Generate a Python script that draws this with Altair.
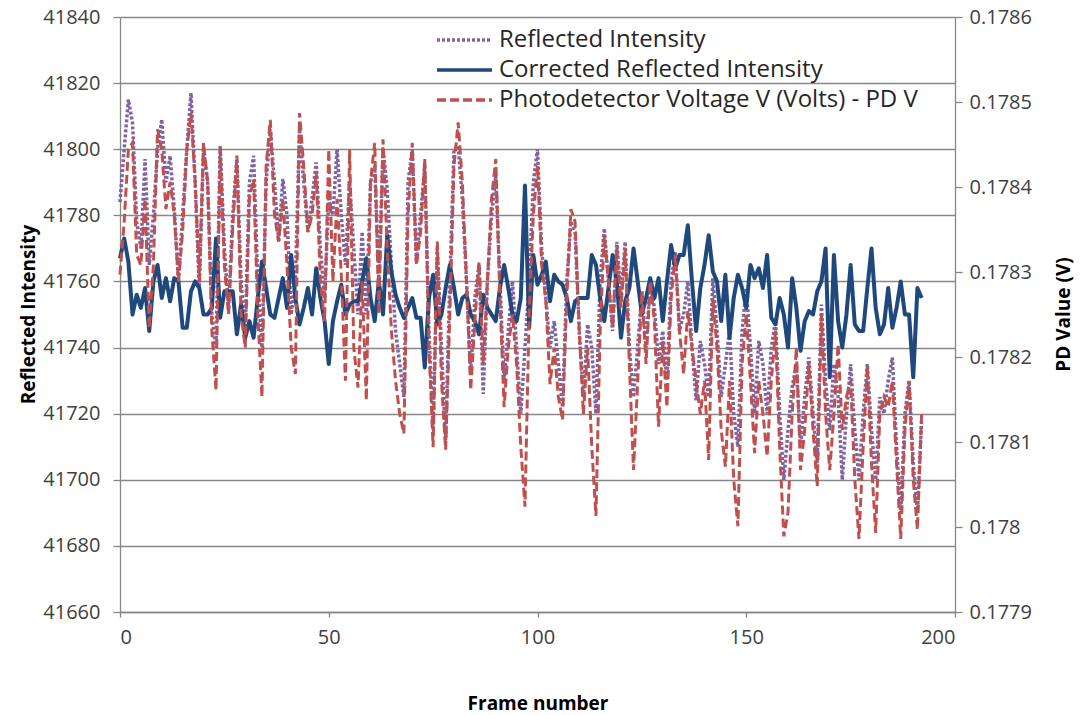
import altair as alt
import pandas as pd

frames = list(range(193))

reflected = [
    41784, 41800, 41815, 41808, 41778, 41770, 41797, 41765, 41780, 41800,
    41809, 41790, 41798, 41782, 41760, 41780, 41800, 41817, 41790, 41758,
    41800, 41790, 41750, 41740, 41801, 41770, 41752, 41780, 41797, 41760,
    41745, 41790, 41798, 41760, 41740, 41790, 41806, 41790, 41772, 41791,
    41780, 41750, 41760, 41806, 41790, 41775, 41785, 41796, 41770, 41755,
    41785, 41780, 41800, 41780, 41765, 41790, 41770, 41750, 41775, 41750,
    41790, 41795, 41760, 41800, 41788, 41765, 41745, 41735, 41725, 41790,
    41800, 41766, 41780, 41795, 41745, 41715, 41770, 41740, 41712, 41760,
    41800, 41801, 41785, 41760, 41732, 41755, 41765, 41726, 41760, 41780,
    41792, 41760, 41730, 41745, 41760, 41740, 41720, 41740, 41760, 41790,
    41800, 41770, 41755, 41740, 41748, 41735, 41722, 41760, 41778, 41775,
    41745, 41725, 41747, 41740, 41720, 41760, 41776, 41760, 41745, 41772,
    41755, 41772, 41740, 41725, 41740, 41757, 41740, 41760, 41752, 41735,
    41745, 41730, 41760, 41769, 41745, 41750, 41760, 41740, 41724, 41742,
    41735, 41725, 41761, 41745, 41725, 41735, 41745, 41720, 41710, 41745,
    41758, 41740, 41720, 41742, 41735, 41720, 41740, 41748, 41720, 41700,
    41715, 41728, 41735, 41710, 41725, 41737, 41720, 41705, 41753, 41730,
    41715, 41735, 41725, 41700, 41720, 41735, 41715, 41700, 41720, 41735,
    41715, 41700, 41725, 41720, 41730, 41737, 41710, 41690, 41720, 41730,
    41705, 41690, 41718,
]

corrected = [
    41767, 41773, 41766, 41750, 41756, 41752, 41758, 41745, 41760, 41765,
    41755, 41761, 41754, 41761, 41760, 41746, 41746, 41757, 41760, 41758,
    41750, 41750, 41752, 41773, 41749, 41757, 41757, 41757, 41744, 41753,
    41743, 41748, 41743, 41755, 41766, 41758, 41750, 41749, 41755, 41761,
    41752, 41768, 41755, 41747, 41752, 41758, 41750, 41764, 41755, 41748,
    41735, 41748, 41754, 41759, 41750, 41753, 41754, 41754, 41760, 41767,
    41755, 41748, 41760, 41750, 41774, 41763, 41756, 41752, 41749, 41752,
    41755, 41749, 41749, 41734, 41755, 41762, 41747, 41750, 41758, 41765,
    41758, 41750, 41755, 41756, 41750, 41748, 41744, 41756, 41752, 41750,
    41748, 41758, 41765, 41758, 41750, 41748, 41755, 41789, 41746, 41768,
    41759, 41762, 41766, 41754, 41762, 41760, 41759, 41755, 41748, 41754,
    41755, 41755, 41755, 41768, 41765, 41755, 41748, 41758, 41768, 41760,
    41743, 41754, 41758, 41770, 41760, 41750, 41755, 41761, 41755, 41761,
    41748, 41760, 41771, 41764, 41768, 41768, 41777, 41760, 41745, 41758,
    41765, 41774, 41763, 41760, 41748, 41762, 41743, 41755, 41762, 41758,
    41752, 41765, 41761, 41764, 41758, 41768, 41749, 41747, 41755, 41750,
    41740, 41761, 41752, 41739, 41748, 41751, 41750, 41757, 41760, 41770,
    41731, 41768, 41748, 41740, 41750, 41765, 41747, 41745, 41745, 41758,
    41770, 41752, 41744, 41747, 41758, 41746, 41752, 41760, 41750, 41750,
    41731, 41758, 41755,
]

pd_volts = [
    0.178297, 0.178359, 0.178444, 0.178452, 0.178320, 0.178308, 0.178386, 0.178234, 0.178308, 0.178468,
    0.178444, 0.178374, 0.178406, 0.178367, 0.178289, 0.178347, 0.178444, 0.178487, 0.178406, 0.178289,
    0.178452, 0.178406, 0.178231, 0.178161, 0.178444, 0.178308, 0.178250, 0.178351, 0.178437, 0.178250,
    0.178211, 0.178386, 0.178409, 0.178250, 0.178153, 0.178425, 0.178479, 0.178367, 0.178336, 0.178386,
    0.178308, 0.178211, 0.178180, 0.178487, 0.178425, 0.178347, 0.178367, 0.178417, 0.178289, 0.178242,
    0.178444, 0.178289, 0.178386, 0.178297, 0.178172, 0.178444, 0.178211, 0.178164, 0.178289, 0.178149,
    0.178406, 0.178452, 0.178250, 0.178456, 0.178328, 0.178231, 0.178172, 0.178133, 0.178110, 0.178367,
    0.178452, 0.178308, 0.178347, 0.178433, 0.178211, 0.178094, 0.178336, 0.178172, 0.178091, 0.178250,
    0.178425, 0.178476, 0.178406, 0.178289, 0.178161, 0.178242, 0.178312, 0.178192, 0.178289, 0.178386,
    0.178433, 0.178269, 0.178141, 0.178211, 0.178250, 0.178192, 0.178094, 0.178024, 0.178250, 0.178367,
    0.178425, 0.178308, 0.178266, 0.178168, 0.178211, 0.178153, 0.178126, 0.178269, 0.178374, 0.178359,
    0.178231, 0.178133, 0.178211, 0.178094, 0.178013, 0.178231, 0.178343, 0.178289, 0.178234, 0.178328,
    0.178258, 0.178328, 0.178192, 0.178067, 0.178172, 0.178277, 0.178192, 0.178289, 0.178242, 0.178118,
    0.178219, 0.178141, 0.178269, 0.178320, 0.178231, 0.178180, 0.178254, 0.178211, 0.178172, 0.178133,
    0.178172, 0.178079, 0.178269, 0.178211, 0.178114, 0.178071, 0.178172, 0.178056, 0.178001, 0.178192,
    0.178250, 0.178172, 0.178087, 0.178172, 0.178133, 0.178083, 0.178172, 0.178231, 0.178094, 0.177989,
    0.178017, 0.178133, 0.178211, 0.178067, 0.178114, 0.178192, 0.178114, 0.178048, 0.178250, 0.178133,
    0.178067, 0.178133, 0.178215, 0.178114, 0.178153, 0.178172, 0.178056, 0.177986, 0.178094, 0.178188,
    0.178075, 0.177993, 0.178133, 0.178153, 0.178141, 0.178172, 0.178075, 0.177986, 0.178114, 0.178172,
    0.178056, 0.177997, 0.178133,
]

series_names = [
    "Reflected Intensity",
    "Corrected Reflected Intensity",
    "Photodetector Voltage V (Volts) - PD V",
]
series_colors = ["#8064A2", "#1F497D", "#C0504D"]
series_dashes = [[3, 2], [1, 0], [9, 4]]

left_ticks = [41660, 41680, 41700, 41720, 41740, 41760, 41780, 41800, 41820, 41840]
right_ticks = [0.1779, 0.178, 0.1781, 0.1782, 0.1783, 0.1784, 0.1785, 0.1786]
x_ticks = [0, 50, 100, 150, 200]

df_refl = pd.DataFrame({"frame": frames, "value": reflected, "series": series_names[0]})
df_corr = pd.DataFrame({"frame": frames, "value": corrected, "series": series_names[1]})
df_pd = pd.DataFrame({"frame": frames, "value": pd_volts, "series": series_names[2]})

FONT = "Open Sans"
AX = "#878787"

legend = alt.Legend(
    title=None, orient="none", legendX=315, legendY=8,
    symbolType="stroke", symbolSize=3025, symbolStrokeWidth=3.4,
    labelFontSize=24, labelFont=FONT, labelColor="#262626",
    labelOffset=5, rowPadding=0, clipHeight=30, labelLimit=800,
)
color = alt.Color("series:N", scale=alt.Scale(domain=series_names, range=series_colors), legend=legend)
dash = alt.StrokeDash("series:N", scale=alt.Scale(domain=series_names, range=series_dashes), legend=legend)

x_enc = alt.X(
    "frame:Q",
    scale=alt.Scale(domain=[0, 200], nice=False),
    axis=alt.Axis(values=x_ticks, title="Frame number", grid=False, labelPadding=10,
                  titleY=91, titleBaseline="middle", tickSize=5),
)

left_axis = alt.Axis(values=left_ticks, title="Reflected Intensity", grid=True, format="d",
                     gridColor=AX, gridWidth=1.3, tickSize=7, labelPadding=13,
                     titleX=-92, titleY=297, titleBaseline="middle", titleAngle=270)
left_scale = alt.Scale(domain=[41660, 41840], nice=False, zero=False)

right_axis = alt.Axis(values=right_ticks, title="PD Value (V)", orient="right", grid=False,
                      format=".4~f", tickSize=7, labelPadding=7,
                      titleX=108, titleY=297, titleBaseline="middle", titleAngle=270)
right_scale = alt.Scale(domain=[0.1779, 0.1786], nice=False, zero=False)

refl = alt.Chart(df_refl).mark_line(strokeWidth=3.5, strokeCap="butt").encode(
    x=x_enc, y=alt.Y("value:Q", scale=left_scale, axis=left_axis), color=color, strokeDash=dash
)
corr = alt.Chart(df_corr).mark_line(strokeWidth=4, strokeJoin="round").encode(
    x=x_enc, y=alt.Y("value:Q", scale=left_scale, axis=left_axis), color=color, strokeDash=dash
)
pdl = alt.Chart(df_pd).mark_line(strokeWidth=3, strokeCap="butt").encode(
    x=x_enc, y=alt.Y("value:Q", scale=right_scale, axis=right_axis), color=color, strokeDash=dash
)

chart = (
    alt.layer(alt.layer(refl, corr), pdl)
    .resolve_scale(y="independent")
    .properties(
        width=835, height=595,
        padding={"left": 120, "top": 17, "right": 126, "bottom": 103},
        autosize=alt.AutoSizeParams(type="none"),
        background="white",
    )
    .configure_view(stroke=None)
    .configure_axis(
        labelFont=FONT, labelFontSize=20, labelColor="#404040",
        titleFont=FONT, titleFontSize=19, titleFontWeight="bold", titleColor="#000000",
        domainColor=AX, domainWidth=1.3, tickColor=AX, tickWidth=1.3,
    )
)

chart.save("out.html", embed_options={"renderer": "svg", "actions": False})
